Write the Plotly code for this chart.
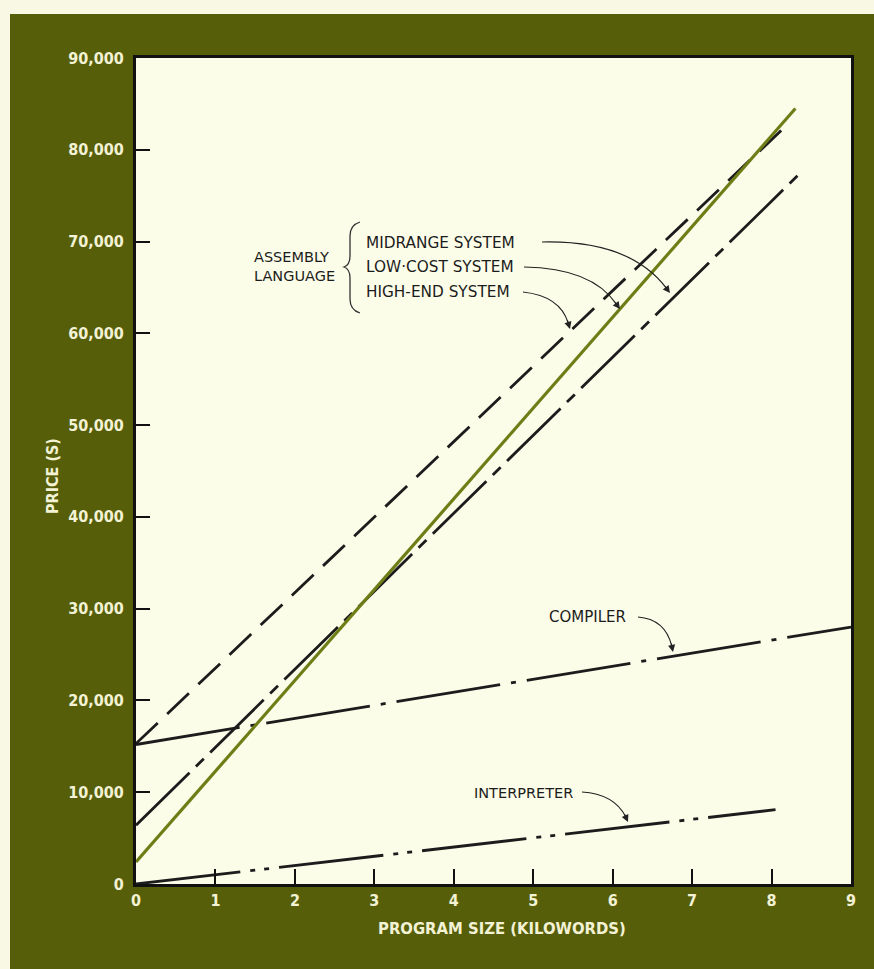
import plotly.graph_objects as go

# program size (kilowords) vs price ($)
x_lowcost = [0, 8.3]
y_lowcost = [2400, 84500]
x_midrange = [0, 8.33]
y_midrange = [6400, 77200]
x_highend = [0, 8.17]
y_highend = [15300, 82500]
x_compiler = [0, 9]
y_compiler = [15200, 28000]
x_interp = [0, 8.05]
y_interp = [0, 8100]

x_ticks = [0, 1, 2, 3, 4, 5, 6, 7, 8, 9]
y_ticks = [0, 10000, 20000, 30000, 40000, 50000, 60000, 70000, 80000, 90000]
y_ticktext = ["0", "10,000", "20,000", "30,000", "40,000", "50,000",
              "60,000", "70,000", "80,000", "90,000"]

OLIVE = "#565e0a"
CREAM = "#fcfde9"
LABEL = "#f3f2d4"
INK = "#1c1c1c"
GREEN = "#6e7e16"
NARROW = "Liberation Sans Narrow, DejaVu Sans Condensed, Roboto, sans-serif"
PLAIN = "DejaVu Sans, Roboto, sans-serif"

W, H = 874, 969
L, R, T, B = 136, 851, 58, 884


def pp(x, y):
    # pixel position -> paper coords
    return (x - L) / (R - L), (B - y) / (B - T)


def curve(p0, c, p1):
    (x0, y0), (cx, cy), (x1, y1) = pp(*p0), pp(*c), pp(*p1)
    return f"M {x0},{y0} Q {cx},{cy} {x1},{y1}"


fig = go.Figure()

fig.add_trace(go.Scatter(x=x_interp, y=y_interp, mode="lines",
                         line=dict(color=INK, width=2.8,
                                   dash="105px,10px,5px,9px,5px,10px")))
fig.add_trace(go.Scatter(x=x_compiler, y=y_compiler, mode="lines",
                         line=dict(color=INK, width=2.8,
                                   dash="105px,11px,5px,11px")))
fig.add_trace(go.Scatter(x=x_highend, y=y_highend, mode="lines",
                         line=dict(color=INK, width=2.8, dash="30px,13px")))
fig.add_trace(go.Scatter(x=x_midrange, y=y_midrange, mode="lines",
                         line=dict(color=INK, width=2.8,
                                   dash="75px,9px,11px,9px")))
fig.add_trace(go.Scatter(x=x_lowcost, y=y_lowcost, mode="lines",
                         line=dict(color=GREEN, width=3.2)))

shapes = [
    # pale strips round the olive board
    dict(type="rect", xref="paper", yref="paper", layer="below",
         x0=pp(0, 0)[0], x1=pp(W, 0)[0], y0=pp(0, 14)[1], y1=pp(0, 0)[1],
         fillcolor="#f8f8e4", line_width=0),
    dict(type="rect", xref="paper", yref="paper", layer="below",
         x0=pp(0, 0)[0], x1=pp(10, 0)[0], y0=pp(0, H)[1], y1=pp(0, 0)[1],
         fillcolor="#f8f8e4", line_width=0),
]

# brace
bx = [pp(360, 222), pp(350, 225), pp(350, 236), pp(350, 256), pp(350, 265),
      pp(344, 267), pp(350, 269), pp(350, 278), pp(350, 299), pp(350, 310),
      pp(360, 313)]
brace = (f"M {bx[0][0]},{bx[0][1]} Q {bx[1][0]},{bx[1][1]} {bx[2][0]},{bx[2][1]} "
         f"L {bx[3][0]},{bx[3][1]} Q {bx[4][0]},{bx[4][1]} {bx[5][0]},{bx[5][1]} "
         f"Q {bx[6][0]},{bx[6][1]} {bx[7][0]},{bx[7][1]} "
         f"L {bx[8][0]},{bx[8][1]} Q {bx[9][0]},{bx[9][1]} {bx[10][0]},{bx[10][1]}")
shapes.append(dict(type="path", xref="paper", yref="paper", path=brace,
                   line=dict(color="#333333", width=1.3)))

arrows = [
    ((542, 242), (630, 240), (670, 293), -6, -8),
    ((524, 267), (592, 268), (620, 309), -6, -8),
    ((523, 292), (560, 296), (570, 329), -3, -10),
    ((638, 617), (665, 619), (673, 652), -2, -10),
    ((582, 792), (614, 794), (628, 822), -4, -9),
]
annotations = []
for p0, c, p1, ax, ay in arrows:
    shapes.append(dict(type="path", xref="paper", yref="paper",
                       path=curve(p0, c, (p1[0] + ax * 0.6, p1[1] + ay * 0.6)),
                       line=dict(color="#222222", width=1.2)))
    hx, hy = pp(*p1)
    annotations.append(dict(xref="paper", yref="paper", x=hx, y=hy, text="",
                            showarrow=True, arrowhead=2, arrowsize=1.2,
                            arrowwidth=1.2, arrowcolor="#222222",
                            ax=ax, ay=ay, axref="pixel", ayref="pixel"))


def label(text, x, y, anchor="left", size=14.5, color=INK, font=PLAIN,
          angle=0, weight="normal"):
    px_, py_ = pp(x, y)
    annotations.append(dict(xref="paper", yref="paper", x=px_, y=py_, text=text,
                            showarrow=False, xanchor=anchor, yanchor="middle",
                            textangle=angle, align="left",
                            font=dict(family=font, size=size, color=color,
                                      weight=weight)))


label("MIDRANGE SYSTEM", 364, 243, size=15.3)
label("LOW·COST SYSTEM", 364, 267, size=15.3)
label("HIGH-END SYSTEM", 364, 292, size=15.3)
label("ASSEMBLY<br>LANGUAGE", 252, 266)
label("COMPILER", 587, 617, anchor="center", size=15)
label("INTERPRETER", 523, 793, anchor="center")
label("PROGRAM SIZE (KILOWORDS)", 502, 928, anchor="center", size=16.5,
      color=LABEL, font=NARROW, weight="bold")
label("PRICE (S)", 53, 476, anchor="center", size=16, color=LABEL,
      font=NARROW, angle=-90, weight="bold")

tickfont = dict(family=NARROW, size=16, color=LABEL, weight="bold")

fig.update_layout(
    width=W, height=H,
    margin=dict(l=L, r=W - R, t=T, b=H - B),
    paper_bgcolor=OLIVE, plot_bgcolor=CREAM,
    showlegend=False,
    shapes=shapes, annotations=annotations,
    font=dict(family=NARROW, color=LABEL),
    xaxis=dict(range=[0, 9], tickvals=x_ticks, showgrid=False, zeroline=False,
               showline=True, linecolor="#111111", linewidth=3, mirror=True,
               ticks="inside", ticklen=15, tickwidth=1.5, tickcolor="#111111",
               tickfont=tickfont),
    yaxis=dict(range=[0, 90000], tickvals=y_ticks, ticktext=y_ticktext,
               showgrid=False, zeroline=False,
               showline=True, linecolor="#111111", linewidth=3, mirror=True,
               ticks="inside", ticklen=14, tickwidth=1.5, tickcolor="#111111",
               ticklabelstandoff=6, tickfont=tickfont),
)

fig.write_html("out.html", config={"displayModeBar": False},
               post_script="document.body.style.margin='0';"
                           "document.body.style.overflow='hidden';")
